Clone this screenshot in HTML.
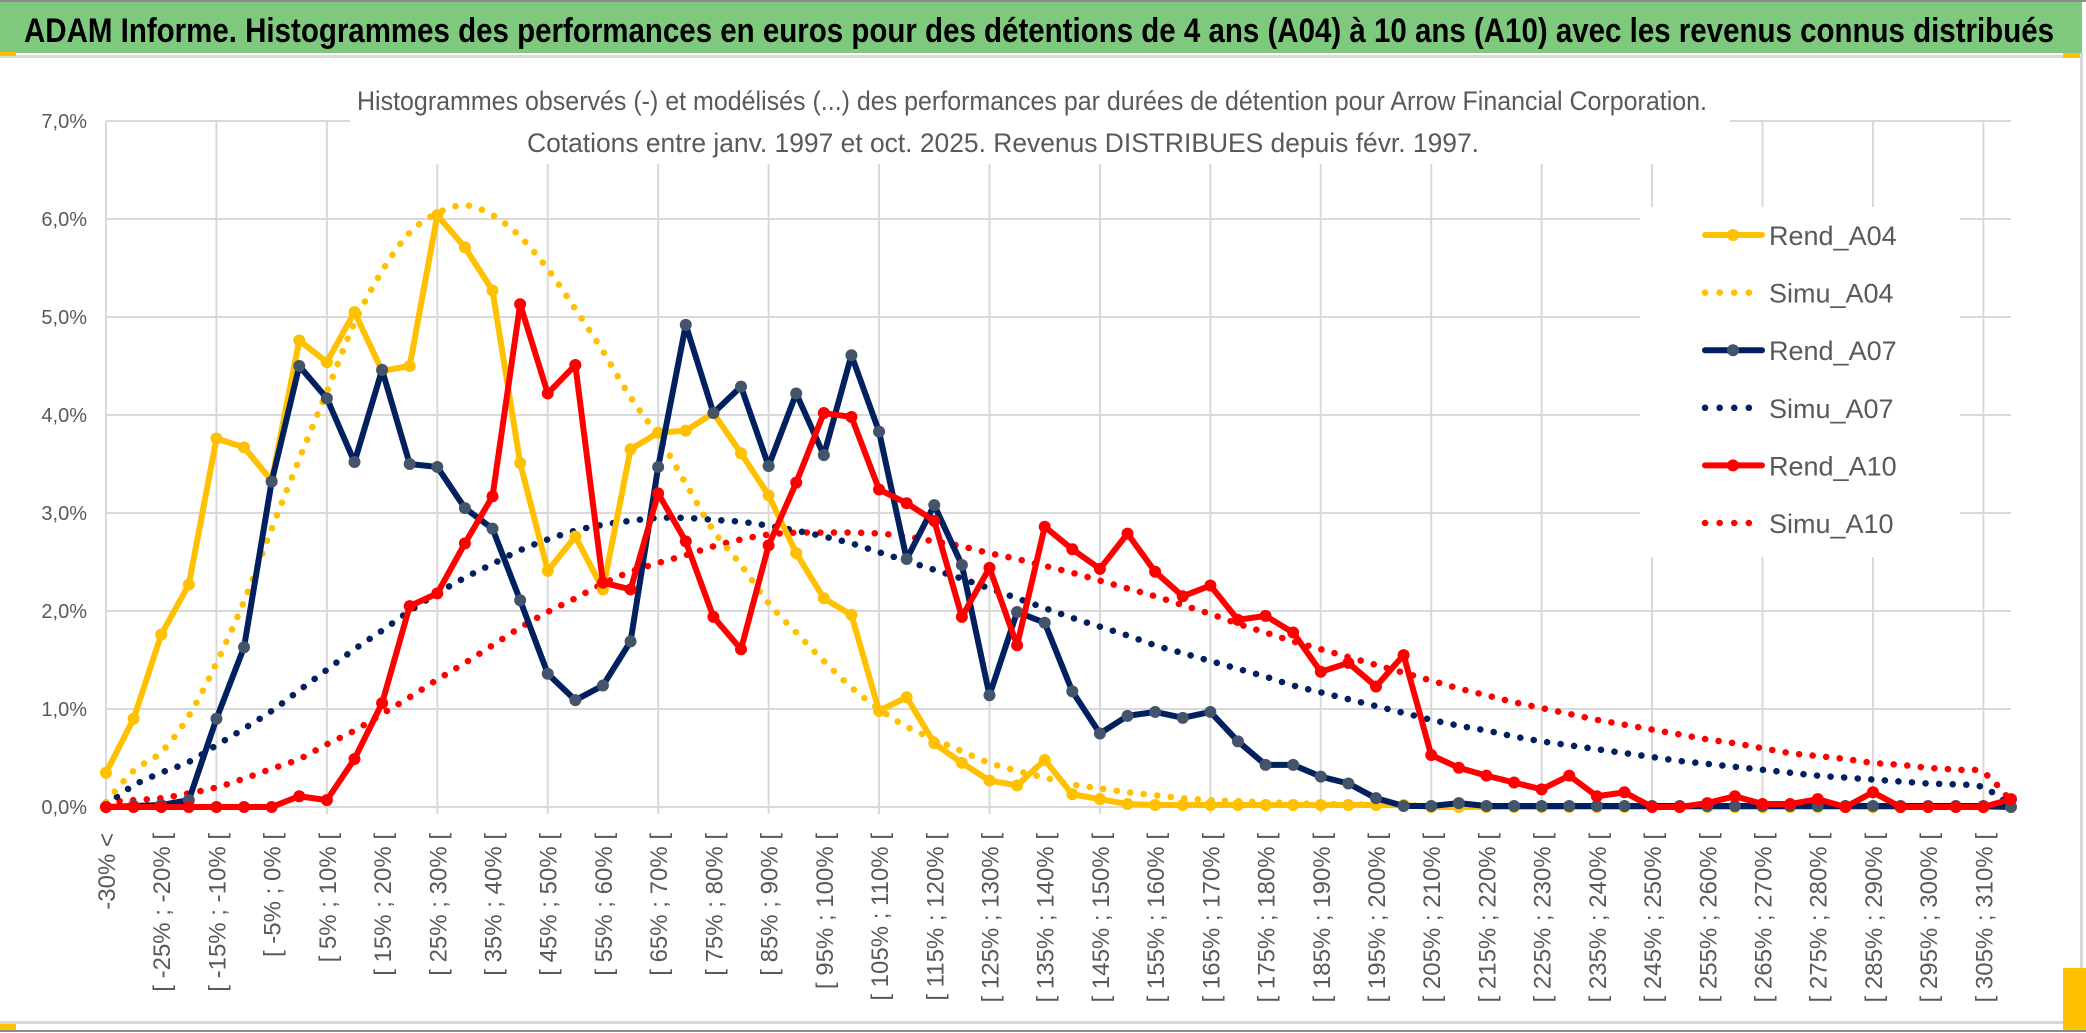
<!DOCTYPE html>
<html><head><meta charset="utf-8"><style>
html,body{margin:0;padding:0;background:#fff;}
svg{display:block;font-family:"Liberation Sans",sans-serif;}
</style></head><body>
<svg id="chart" width="2086" height="1033" viewBox="0 0 2086 1033" xmlns="http://www.w3.org/2000/svg">
<rect x="0" y="0" width="2086" height="1033" fill="#fff"/>
<rect x="0" y="2" width="2082" height="51" fill="#7fc97f"/>
<line x1="0" y1="1" x2="2086" y2="1" stroke="#8c8c8c" stroke-width="2"/>
<rect x="0" y="55" width="2082" height="3" fill="#d9d9d9"/>
<rect x="0" y="52" width="16" height="4" fill="#ffc000"/>
<rect x="2063" y="53" width="19" height="5" fill="#ffc000"/>
<rect x="2080" y="53" width="3" height="970" fill="#d9d9d9"/>
<rect x="0" y="1021" width="2082" height="3" fill="#d9d9d9"/>
<rect x="0" y="1024" width="16" height="6" fill="#ffc000"/>
<rect x="2063" y="968" width="23" height="62" fill="#ffc000"/>
<line x1="0" y1="1031" x2="2086" y2="1031" stroke="#8c8c8c" stroke-width="2"/>
<text x="24" y="42" font-size="34" font-weight="bold" fill="#000" textLength="2030" lengthAdjust="spacingAndGlyphs">ADAM Informe. Histogrammes des performances en euros pour des détentions de 4 ans (A04) à 10 ans (A10) avec les revenus connus distribués</text>
<g id="grid"></g>
<g id="titlebox">
<rect x="350" y="62" width="1380" height="102" fill="#fff"/>
<text x="357" y="110" font-size="27" fill="#595959" textLength="1350" lengthAdjust="spacingAndGlyphs">Histogrammes observés (-) et modélisés (...) des performances par durées de détention pour Arrow Financial Corporation.</text>
<text x="527" y="152" font-size="27" fill="#595959" textLength="952" lengthAdjust="spacingAndGlyphs">Cotations entre janv. 1997 et oct. 2025. Revenus DISTRIBUES depuis févr. 1997.</text>
</g>
<g id="yaxis"></g>
<g id="xaxis"></g>
<g id="series"></g>
<g id="legend"></g>
</svg>
<script>
const rendA04=[0.35,0.90,1.76,2.27,3.76,3.67,3.33,4.76,4.54,5.05,4.45,4.50,6.04,5.71,5.27,3.51,2.41,2.76,2.22,3.65,3.82,3.84,4.02,3.61,3.18,2.59,2.13,1.96,0.98,1.12,0.65,0.45,0.27,0.22,0.48,0.13,0.08,0.03,0.02,0.02,0.02,0.02,0.02,0.02,0.02,0.02,0.02,0.02,0,0,0,0,0,0,0,0,0,0,0,0,0,0,0,0,0,0,0,0,0,0];
const simuA04=[0.05,0.37,0.56,0.93,1.47,2.10,2.84,3.55,4.24,4.94,5.47,5.86,6.06,6.14,6.04,5.82,5.49,5.08,4.65,4.18,3.78,3.30,2.82,2.47,2.08,1.78,1.49,1.22,1.00,0.82,0.69,0.57,0.45,0.37,0.30,0.23,0.19,0.15,0.12,0.09,0.07,0.06,0.05,0.04,0.03,0.03,0.02,0.02,0.01,0.01,0,0,0,0,0,0,0,0,0,0,0,0,0,0,0,0,0,0,0,0];
const rendA07=[0,0.01,0.02,0.07,0.90,1.63,3.32,4.50,4.17,3.52,4.46,3.50,3.47,3.05,2.84,2.11,1.36,1.09,1.24,1.69,3.47,4.92,4.02,4.29,3.48,4.22,3.59,4.61,3.83,2.53,3.08,2.47,1.14,1.99,1.88,1.18,0.75,0.93,0.97,0.91,0.97,0.67,0.43,0.43,0.31,0.24,0.09,0.01,0.01,0.04,0.01,0.01,0.01,0.01,0.01,0.01,0.01,0.01,0.01,0.01,0.01,0.01,0.01,0.01,0.01,0.01,0.01,0.01,0.01,0];
const simuA07=[0.02,0.22,0.35,0.46,0.63,0.80,0.98,1.19,1.40,1.61,1.80,2.00,2.18,2.34,2.48,2.62,2.73,2.82,2.88,2.92,2.95,2.95,2.93,2.91,2.87,2.82,2.76,2.69,2.60,2.51,2.42,2.33,2.23,2.13,2.03,1.93,1.84,1.75,1.65,1.57,1.49,1.41,1.33,1.24,1.17,1.10,1.03,0.96,0.89,0.83,0.78,0.72,0.67,0.63,0.59,0.55,0.51,0.47,0.44,0.41,0.38,0.35,0.32,0.30,0.28,0.26,0.24,0.23,0.20,0.01];
const rendA10=[0,0,0,0,0,0,0,0.11,0.07,0.49,1.06,2.05,2.18,2.69,3.17,5.13,4.22,4.51,2.29,2.22,3.20,2.71,1.94,1.61,2.67,3.31,4.02,3.98,3.24,3.10,2.92,1.94,2.44,1.65,2.86,2.63,2.43,2.79,2.40,2.15,2.26,1.91,1.95,1.78,1.38,1.47,1.23,1.55,0.53,0.40,0.32,0.25,0.18,0.32,0.11,0.15,0,0,0.04,0.11,0.03,0.03,0.08,0,0.15,0,0,0,0,0.08];
const simuA10=[0.05,0.07,0.09,0.14,0.20,0.29,0.39,0.49,0.64,0.78,0.95,1.12,1.30,1.47,1.65,1.83,1.99,2.13,2.28,2.40,2.49,2.57,2.66,2.73,2.78,2.80,2.80,2.80,2.79,2.76,2.71,2.66,2.59,2.53,2.46,2.39,2.31,2.23,2.15,2.06,1.97,1.87,1.78,1.69,1.61,1.53,1.45,1.37,1.29,1.21,1.14,1.07,1.01,0.95,0.89,0.84,0.79,0.74,0.69,0.65,0.60,0.55,0.52,0.49,0.45,0.43,0.40,0.38,0.35,0.06];
const yTicks=[0,1,2,3,4,5,6,7];
const yTickLabels=["0,0%","1,0%","2,0%","3,0%","4,0%","5,0%","6,0%","7,0%"];
const nCat=70;
const categories=[];
categories.push("-30% <");
for(let i=1;i<nCat-1;i++){categories.push("[ "+((i-1)*5-30)+"% ; "+(i*5-30)+"% [");}
categories.push("310% >=");

const NS="http://www.w3.org/2000/svg";
const X0=106,X1=2011,Y0=807,YTOP=121;
const step=(X1-X0)/(nCat-1);
const xS=i=>X0+i*step;
const yS=v=>Y0-(v/7)*(Y0-YTOP);
function mk(tag,attrs,parent){const e=document.createElementNS(NS,tag);for(const k in attrs)e.setAttribute(k,attrs[k]);parent.appendChild(e);return e;}

const grid=document.getElementById('grid');
yTicks.forEach(t=>{
  const l=mk('line',{x1:X0,x2:X1,y1:yS(t),y2:yS(t),stroke:'#d9d9d9','stroke-width':2},grid);
  
  
});
for(let i=0;i<nCat;i+=4){
  const l=mk('line',{x1:xS(i),x2:xS(i),y1:YTOP,y2:Y0+7,stroke:'#d9d9d9','stroke-width':2},grid);
  
  
}
const yax=document.getElementById('yaxis');
yTicks.forEach((t,k)=>{
  const tx=mk('text',{x:87,y:yS(t)+7,'text-anchor':'end','font-size':20,fill:'#595959'},yax);
  tx.textContent=yTickLabels[k];
  
  
});
const xax=document.getElementById('xaxis');
for(let i=0;i<nCat;i+=2){
  const tx=mk('text',{transform:`translate(${xS(i)+9},833) rotate(-90)`,'text-anchor':'end','font-size':24,fill:'#595959'},xax);
  tx.textContent=categories[i];
  
  
}
function smoothPath(vals){
  const p=vals.map((v,i)=>[xS(i),yS(v)]);
  let d=`M${p[0][0]},${p[0][1]}`;
  for(let i=0;i<p.length-1;i++){
    const a=p[Math.max(0,i-1)],b=p[i],c=p[i+1],e=p[Math.min(p.length-1,i+2)];
    const c1=[b[0]+(c[0]-a[0])/6,b[1]+(c[1]-a[1])/6],c2=[c[0]-(e[0]-b[0])/6,c[1]-(e[1]-b[1])/6];
    d+=` C${c1[0]},${c1[1]} ${c2[0]},${c2[1]} ${c[0]},${c[1]}`;
  }
  return d;
}
const ser=document.getElementById('series');
function simu(vals,color,name){
  const p=mk('path',{d:smoothPath(vals),fill:'none',stroke:color,'stroke-width':6.5,'stroke-linecap':'round','stroke-dasharray':'0.1 13.5'},ser);
  
  
}
function rend(vals,color,mcol,name){
  const g=mk('g',{},ser);
  
  
  mk('polyline',{points:vals.map((v,i)=>xS(i)+','+yS(v)).join(' '),fill:'none',stroke:color,'stroke-width':6,'stroke-linejoin':'round'},g);
  vals.forEach((v,i)=>{
    const c=mk('circle',{cx:xS(i),cy:yS(v),r:6,fill:mcol},g);
    
    
  });
}
simu(simuA10,'#ff0000','simu-a10-line');
simu(simuA07,'#002060','simu-a07-line');
simu(simuA04,'#ffc000','simu-a04-line');
rend(rendA04,'#ffc000','#ffc000','rend-a04-line');
rend(rendA07,'#002060','#44546a','rend-a07-line');
rend(rendA10,'#ff0000','#ff0000','rend-a10-line');

const leg=document.getElementById('legend');
mk('rect',{x:1640,y:207,width:320,height:350,fill:'#fff'},leg);
const legItems=[["Rend_A04",'#ffc000','#ffc000',false],["Simu_A04",'#ffc000','',true],["Rend_A07",'#002060','#44546a',false],["Simu_A07",'#002060','',true],["Rend_A10",'#ff0000','#ff0000',false],["Simu_A10",'#ff0000','',true]];
legItems.forEach((it,k)=>{
  const y=235+k*57.6;
  const g=mk('g',{},leg);
  
  
  if(it[3]){
    mk('line',{x1:1705,x2:1760,y1:y,y2:y,stroke:it[1],'stroke-width':6.5,'stroke-linecap':'round','stroke-dasharray':'0.1 14.5'},g);
  }else{
    mk('line',{x1:1705,x2:1762,y1:y,y2:y,stroke:it[1],'stroke-width':6,'stroke-linecap':'round'},g);
    mk('circle',{cx:1733,cy:y,r:6,fill:it[2]},g);
  }
  const t=mk('text',{x:1769,y:y+10,'font-size':27,fill:'#595959'},g);
  t.textContent=it[0];
});
</script>
</body></html>
